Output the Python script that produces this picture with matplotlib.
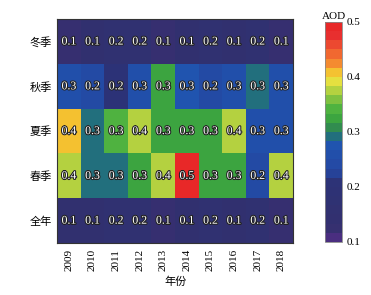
import matplotlib
matplotlib.use('Agg')
import matplotlib.pyplot as plt
import matplotlib.patheffects as pe
from matplotlib.colors import LinearSegmentedColormap
import numpy as np

# data (rows top->bottom)
years = ['2009', '2010', '2011', '2012', '2013', '2014', '2015', '2016', '2017', '2018']
seasons = ['冬季', '秋季', '夏季', '春季', '全年']
winter = [0.13, 0.14, 0.16, 0.16, 0.12, 0.14, 0.16, 0.14, 0.16, 0.12]
autumn = [0.26, 0.24, 0.20, 0.26, 0.32, 0.27, 0.24, 0.26, 0.285, 0.26]
summer = [0.40, 0.30, 0.345, 0.37, 0.32, 0.32, 0.33, 0.37, 0.26, 0.26]
spring = [0.37, 0.30, 0.30, 0.33, 0.38, 0.49, 0.33, 0.33, 0.24, 0.37]
annual = [0.14, 0.14, 0.16, 0.16, 0.12, 0.14, 0.16, 0.14, 0.16, 0.12]

aod = np.array([winter, autumn, summer, spring, annual])

# stepped colormap, purple -> navy -> blue -> green -> yellow -> red
anchors = [(0.00, '#4a2e80'), (0.05, '#33306e'), (0.28, '#2c3378'),
           (0.31, '#2546a0'), (0.44, '#2055b0'), (0.47, '#1f6a88'),
           (0.51, '#2e8455'), (0.55, '#38a040'), (0.60, '#46b040'),
           (0.65, '#7cc040'), (0.69, '#aed040'), (0.74, '#e6e040'),
           (0.785, '#f5c030'), (0.82, '#f59030'), (0.88, '#f06030'),
           (0.95, '#e83030'), (1.00, '#e82828')]
cmap = LinearSegmentedColormap.from_list('aod', anchors, N=24)

plt.rcParams['font.family'] = ['Liberation Serif', 'Noto Sans CJK SC']
plt.rcParams['font.size'] = 8

fig = plt.figure(figsize=(3.71, 2.95), dpi=100)
ax = fig.add_axes([0.154, 0.176, 0.636, 0.759])
cax = fig.add_axes([0.876, 0.180, 0.046, 0.746])

im = ax.imshow(aod, cmap=cmap, vmin=0.1, vmax=0.5, aspect='auto')

for i in range(aod.shape[0]):
    for j in range(aod.shape[1]):
        ax.text(j, i, f'{aod[i, j]:.1f}', ha='center', va='center',
                color='white', fontsize=8.5,
                path_effects=[pe.withStroke(linewidth=1.5, foreground='#222222')])

ax.set_xticks(range(len(years)))
ax.set_xticklabels(years, rotation=90)
ax.set_yticks(range(len(seasons)))
ax.set_yticklabels(seasons, family='Noto Sans CJK SC')
ax.tick_params(length=0, pad=4)
ax.set_xlabel('年份', family='Noto Sans CJK SC', labelpad=4)
for s in ax.spines.values():
    s.set_color('#333333')
    s.set_linewidth(0.8)

cb = fig.colorbar(im, cax=cax, ticks=[0.1, 0.2, 0.3, 0.4, 0.5])
cb.ax.tick_params(length=0, pad=3)
cb.outline.set_edgecolor('#888888')
cb.outline.set_linewidth(0.6)
cax.set_title('AOD', fontsize=8, pad=2)

fig.savefig('out.png', dpi=100)
